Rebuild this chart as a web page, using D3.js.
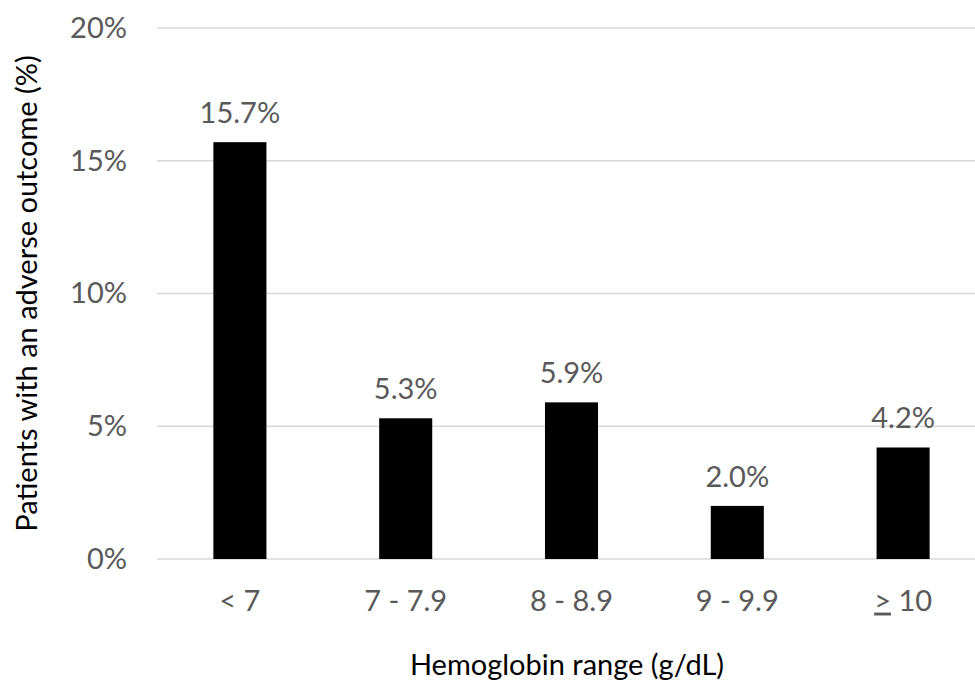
<!DOCTYPE html>
<html>
<head>
<meta charset="utf-8">
<script src="https://cdn.jsdelivr.net/npm/d3@7"></script>
<style>
  body { margin: 0; background: #fff; }
  text { font-family: Lato, "Open Sans", sans-serif; }
</style>
</head>
<body>
<div id="chart"></div>
<script>
// data
const categories = ["< 7", "7 - 7.9", "8 - 8.9", "9 - 9.9", "≥ 10"]
const values = [15.7, 5.3, 5.9, 2.0, 4.2]
const yTicks = [0, 5, 10, 15, 20]

const W = 975, H = 681
const margin = {top: 28, right: -11, bottom: 122, left: 157}
const width = W - margin.left - margin.right,
    height = H - margin.top - margin.bottom
const fontSize = "29px"

const svg = d3.select("#chart")
    .append("svg")
    .attr("width", W)
    .attr("height", H)

const g = svg.append("g")
    .attr("transform", "translate(" + margin.left + "," + margin.top + ")")

const x = d3.scaleBand()
    .domain(categories)
    .range([0, width])
    .paddingInner(0.68)
    .paddingOuter(0.34)

const y = d3.scaleLinear()
    .domain([0, 20])
    .range([height, 0])

// gridlines
g.selectAll(".grid")
    .data(yTicks)
    .enter()
    .append("line")
    .attr("x1", 0)
    .attr("x2", width)
    .attr("y1", d => y(d))
    .attr("y2", d => y(d))
    .attr("stroke", "#d9d9d9")
    .attr("stroke-width", 1.3)

// y axis labels
const yAxis = g.append("g")
    .call(d3.axisLeft(y).tickValues(yTicks).tickFormat(d => d + "%").tickSize(0).tickPadding(30))
yAxis.select(".domain").remove()
yAxis.selectAll("text")
    .attr("fill", "#595959")
    .style("font-size", fontSize)

// x axis labels
const xAxis = g.append("g")
    .attr("transform", "translate(0," + height + ")")
    .call(d3.axisBottom(x).tickSize(0).tickPadding(31))
xAxis.select(".domain").remove()
xAxis.selectAll("text")
    .attr("fill", "#595959")
    .style("font-size", fontSize)
    .each(function(d) {
        if (d.startsWith("≥")) {
            // Excel-style underlined ">" for greater-or-equal
            const t = d3.select(this).text("")
            t.append("tspan").text(">").style("text-decoration", "underline")
            t.append("tspan").text(d.slice(1))
        }
    })

// bars
g.selectAll(".bar")
    .data(values)
    .enter()
    .append("rect")
    .attr("x", (d, i) => x(categories[i]))
    .attr("y", d => y(d))
    .attr("width", x.bandwidth())
    .attr("height", d => height - y(d))
    .attr("fill", "#000")

// value labels
g.selectAll(".val")
    .data(values)
    .enter()
    .append("text")
    .attr("x", (d, i) => x(categories[i]) + x.bandwidth() / 2)
    .attr("y", d => y(d) - 19)
    .attr("text-anchor", "middle")
    .attr("fill", "#595959")
    .style("font-size", fontSize)
    .text(d => d.toFixed(1) + "%")

// axis titles
svg.append("text")
    .attr("x", 567)
    .attr("y", 675)
    .attr("text-anchor", "middle")
    .attr("fill", "#000")
    .style("font-size", fontSize)
    .text("Hemoglobin range (g/dL)")

svg.append("text")
    .attr("transform", "translate(37," + (margin.top + height / 2) + ") rotate(-90)")
    .attr("text-anchor", "middle")
    .attr("fill", "#000")
    .style("font-size", fontSize)
    .text("Patients with an adverse outcome (%)")
</script>
</body>
</html>
